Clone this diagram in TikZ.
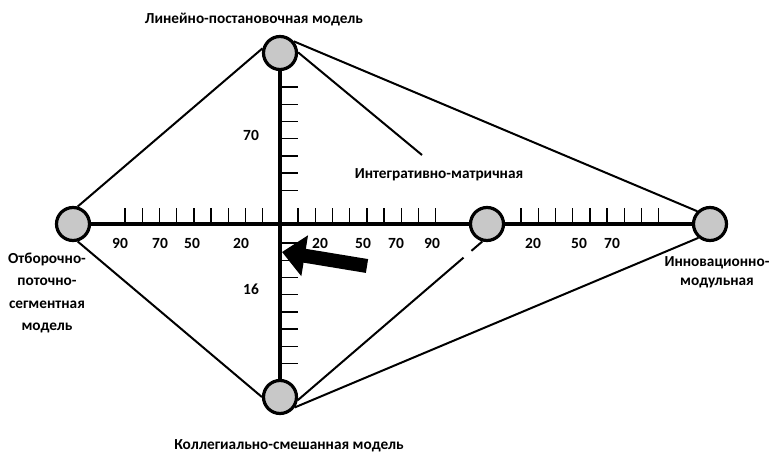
\documentclass[tikz,border=0pt]{standalone}
\usepackage{fontspec}
\setmainfont{Carlito}
\usetikzlibrary{arrows.meta,calc}
\definecolor{nodegray}{RGB}{200,200,200}

\begin{document}
\begin{tikzpicture}[x = {(1pt,0pt)},
  y = {(0pt,-1pt)},
  model/.style={circle, draw=black, line width=3.2pt, fill=nodegray,
    minimum size=33pt, inner sep=0pt},
  lbl/.style={font=\bfseries\fontsize{15.3}{19}\selectfont, inner sep=0pt, align=center},
  num/.style={font=\bfseries\fontsize{15.5}{17}\selectfont, inner sep=0pt},
  link/.style={line width=2pt},
  axis/.style={line width=3.2pt},
  tick/.style={line width=1.4pt}]

  \useasboundingbox (0,0) rectangle (772,455);

  % tick spacing
  \def\tk{17.2}

  % models
  \node[model] (lin) at (280,53) {};
  \node[model] (otb) at (73,224) {};
  \node[model] (kol) at (280,397) {};
  \node[model] (int) at (487,224) {};
  \node[model] (inn) at (710,224) {};

  % axes
  \draw[axis] (otb) -- (int);
  \draw[axis] (int) -- (inn);
  \draw[axis] (lin) -- (kol);

  % ticks
  \foreach \i in {0,1,...,8}
  {
  \draw[tick] (125+\tk*\i,224) -- ++(0,-16);
  \draw[tick] (298+\tk*\i,224) -- ++(0,-16);
  \draw[tick] (521+\tk*\i,224) -- ++(0,-16);
  }
  \foreach \i in {0,1,...,6}
  \draw[tick] (280,87+\tk*\i) -- ++(18,0);
  \foreach \i in {0,1,...,7}
  \draw[tick] (280,243+\tk*\i) -- ++(18,0);

  % links
  \coordinate (intend) at (422,155);
  \draw[link] (lin.165) -- (otb.75);
  \draw[link] (lin.40) -- (inn.135);
  \draw[link] (lin.2) -- (intend);
  \draw[link] (otb.-75) -- (kol.180);
  \draw[link] (kol.-35) -- (inn.-130);
  \draw[link] (kol.-10) -- ($(kol.-10)!0.898!(int.-105)$);
  \draw[link] ($(kol.-10)!0.941!(int.-105)$) -- (int.-105);

  % pointer
  \coordinate (ptrtail) at (367,266);
  \coordinate (ptrtip) at (282,252);
  \draw[line width=14pt, -{Triangle[width=40pt, length=23pt]}] (ptrtail) -- (ptrtip);

  % scale values
  \foreach \v/\x in {90/120,70/160,50/192,20/241}
  \node[num] (l\v) at (\x,243) {\v};
  \foreach \v/\x in {20/320,50/363,70/396,90/432}
  \node[num] (c\v) at (\x,243) {\v};
  \foreach \v/\x in {20/533,50/579,70/612}
  \node[num] (r\v) at (\x,243) {\v};
  \node[num] (v70) at (251,135) {70};
  \node[num] (v16) at (251,289) {16};

  % model names
  \node[lbl] (linlbl) at (254,20) {Линейно-постановочная модель};
  \node[lbl] (intlbl) at (439,175) {Интегративно-матричная};
  \node[lbl] (kollbl) at (289,446) {Коллегиально-смешанная модель};
  \node[lbl, font=\bfseries\fontsize{15.3}{22.5}\selectfont] (otblbl) at (47,293)
  {Отборочно-\\поточно-\\сегментная\\модель};
  \node[lbl] (innlbl) at (717,272) {Инновационно-\\модульная};

\end{tikzpicture}
\end{document}
